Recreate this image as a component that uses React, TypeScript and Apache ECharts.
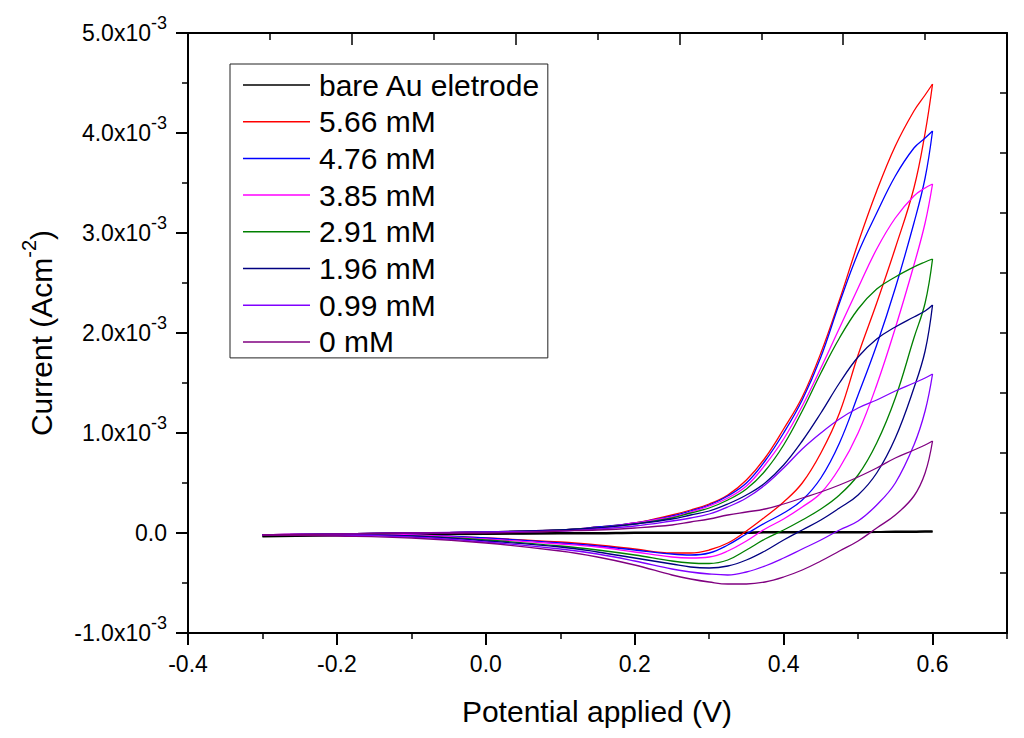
import React, { useEffect, useRef } from "react";
import * as echarts from "echarts";

// Potential grid (V) shared by both branches of every voltammogram
const POTENTIAL = [-0.3, -0.2, -0.1, 0, 0.1, 0.15, 0.2, 0.25, 0.275, 0.3, 0.325, 0.35, 0.375, 0.4, 0.425, 0.45, 0.475, 0.5, 0.525, 0.55, 0.575, 0.59, 0.6];

// Current density in units of 10^-3 A cm^-2
const BARE_UPPER = [-0.03, -0.02, -0.01, -0.005, 0, 0, 0.005, 0.005, 0.005, 0.005, 0.005, 0.005, 0.01, 0.01, 0.01, 0.01, 0.01, 0.01, 0.01, 0.015, 0.015, 0.015, 0.015];
const BARE_LOWER = [-0.035, -0.025, -0.015, -0.01, -0.005, -0.005, 0, 0, 0, 0, 0, 0, 0.005, 0.005, 0.005, 0.005, 0.005, 0.005, 0.01, 0.01, 0.01, 0.015, 0.015];

const UPPER_566 = [-0.02, -0.01, 0.0, 0.01, 0.03, 0.06, 0.1, 0.18, 0.23, 0.29, 0.38, 0.53, 0.75, 1.04, 1.36, 1.8, 2.33, 2.9, 3.42, 3.87, 4.22, 4.38, 4.49];
const LOWER_566 = [-0.02, -0.01, -0.02, -0.05, -0.09, -0.12, -0.16, -0.2, -0.2, -0.17, -0.1, 0.02, 0.16, 0.31, 0.5, 0.8, 1.2, 1.78, 2.3, 2.85, 3.45, 4.0, 4.49];

const UPPER_476 = [-0.02, -0.01, 0.0, 0.01, 0.03, 0.06, 0.1, 0.17, 0.22, 0.28, 0.37, 0.5, 0.72, 1.0, 1.33, 1.76, 2.3, 2.8, 3.2, 3.57, 3.85, 3.95, 4.02];
const LOWER_476 = [-0.02, -0.01, -0.02, -0.05, -0.1, -0.13, -0.17, -0.21, -0.22, -0.2, -0.12, -0.01, 0.1, 0.2, 0.33, 0.55, 0.9, 1.38, 1.88, 2.45, 3.1, 3.55, 4.02];

const UPPER_385 = [-0.02, -0.01, 0.0, 0.01, 0.03, 0.05, 0.1, 0.16, 0.21, 0.27, 0.35, 0.47, 0.68, 0.94, 1.27, 1.65, 2.05, 2.45, 2.84, 3.15, 3.37, 3.45, 3.49];
const LOWER_385 = [-0.02, -0.01, -0.02, -0.06, -0.11, -0.14, -0.19, -0.24, -0.25, -0.24, -0.18, -0.08, 0.04, 0.14, 0.26, 0.4, 0.65, 1.0, 1.48, 2.05, 2.68, 3.1, 3.49];

const UPPER_291 = [-0.02, -0.01, 0.0, 0.01, 0.03, 0.05, 0.09, 0.15, 0.2, 0.25, 0.33, 0.44, 0.62, 0.88, 1.22, 1.6, 1.95, 2.24, 2.44, 2.56, 2.66, 2.71, 2.74];
const LOWER_291 = [-0.02, -0.02, -0.03, -0.07, -0.13, -0.17, -0.22, -0.28, -0.3, -0.305, -0.27, -0.17, -0.06, 0.03, 0.13, 0.24, 0.38, 0.58, 0.9, 1.35, 1.95, 2.3, 2.74];

const UPPER_196 = [-0.02, -0.01, 0.0, 0.01, 0.03, 0.05, 0.09, 0.14, 0.18, 0.22, 0.29, 0.38, 0.5, 0.68, 0.92, 1.2, 1.5, 1.76, 1.94, 2.06, 2.16, 2.22, 2.28];
const LOWER_196 = [-0.02, -0.02, -0.03, -0.08, -0.14, -0.19, -0.25, -0.31, -0.34, -0.35, -0.33, -0.27, -0.18, -0.07, 0.03, 0.13, 0.25, 0.38, 0.6, 0.95, 1.45, 1.82, 2.28];

const UPPER_099 = [-0.02, -0.01, 0.0, 0.01, 0.02, 0.04, 0.07, 0.12, 0.15, 0.19, 0.26, 0.35, 0.48, 0.65, 0.84, 1.0, 1.14, 1.25, 1.33, 1.42, 1.5, 1.55, 1.59];
const LOWER_099 = [-0.02, -0.02, -0.04, -0.09, -0.16, -0.21, -0.28, -0.36, -0.39, -0.41, -0.42, -0.39, -0.33, -0.25, -0.16, -0.07, 0.03, 0.12, 0.28, 0.5, 0.88, 1.22, 1.59];

const UPPER_000 = [-0.02, -0.01, 0.0, 0.0, 0.02, 0.03, 0.05, 0.08, 0.11, 0.14, 0.18, 0.21, 0.24, 0.29, 0.35, 0.41, 0.48, 0.56, 0.65, 0.75, 0.83, 0.88, 0.92];
const LOWER_000 = [-0.02, -0.03, -0.05, -0.1, -0.18, -0.24, -0.32, -0.42, -0.46, -0.49, -0.51, -0.51, -0.49, -0.44, -0.37, -0.28, -0.18, -0.08, 0.05, 0.18, 0.37, 0.6, 0.92];

const SERIES_NAMES = ["bare Au eletrode", "5.66 mM", "4.76 mM", "3.85 mM", "2.91 mM", "1.96 mM", "0.99 mM", "0 mM"];
const UPPER_BRANCHES = [BARE_UPPER, UPPER_566, UPPER_476, UPPER_385, UPPER_291, UPPER_196, UPPER_099, UPPER_000];
const LOWER_BRANCHES = [BARE_LOWER, LOWER_566, LOWER_476, LOWER_385, LOWER_291, LOWER_196, LOWER_099, LOWER_000];

const X_TICKS_MAJOR = 0.2;
const X_TICKS_MINOR = 0.1;
const Y_TICK = 1;

const LINE_COLORS = ["#000000", "#ff0000", "#0000ff", "#ff00ff", "#008000", "#000080", "#8000ff", "#800080"];
const FONT = "'Liberation Sans', Arial, sans-serif";

export default function App() {
  const ref = useRef<HTMLDivElement>(null);

  useEffect(() => {
    if (!ref.current) return;
    const chart = echarts.init(ref.current, null, { renderer: "svg" });

    const series: any[] = [];
    SERIES_NAMES.forEach((name, i) => {
      const base = {
        name,
        type: "line",
        xAxisIndex: 0,
        yAxisIndex: 0,
        showSymbol: false,
        symbol: "none",
        smooth: 0.4,
        lineStyle: { color: LINE_COLORS[i], width: i === 0 ? 2 : 1.3 },
        itemStyle: { color: LINE_COLORS[i] },
        silent: true,
      };
      series.push({ ...base, data: POTENTIAL.map((v, k) => [v, LOWER_BRANCHES[i][k]]) });
      series.push({ ...base, data: POTENTIAL.map((v, k) => [v, UPPER_BRANCHES[i][k]]) });
    });

    const axisLineStyle = { color: "#000", width: 2 };

    chart.setOption({
      animation: false,
      backgroundColor: "#ffffff",
      grid: { left: 188, right: 17, top: 33, bottom: 105, containLabel: false },
      legend: {
        data: SERIES_NAMES,
        orient: "vertical",
        left: 230,
        top: 64,
        padding: [6, 7, 1, 13],
        icon: "rect",
        itemGap: 6.7,
        itemWidth: 67,
        itemHeight: 1.5,
        selectedMode: false,
        borderColor: "#222",
        borderWidth: 1,
        textStyle: { fontSize: 30, lineHeight: 30, fontFamily: FONT, color: "#000", padding: [0, 0, 0, 4] },
      },
      xAxis: [
        {
          type: "value",
          min: -0.4,
          max: 0.7,
          interval: X_TICKS_MAJOR,
          position: "bottom",
          axisLine: { show: true, onZero: false, lineStyle: axisLineStyle },
          axisTick: { show: true, inside: false, length: 12, lineStyle: { color: "#000", width: 2 } },
          axisLabel: {
            margin: 19,
            fontSize: 23,
            fontFamily: FONT,
            color: "#000",
            showMaxLabel: false,
            formatter: (v: number) => (v > 0.65 ? "" : v.toFixed(1)),
          },
          splitLine: { show: false },
        },
        {
          type: "value",
          min: -0.4,
          max: 0.7,
          interval: X_TICKS_MINOR,
          position: "bottom",
          axisLine: { show: false, onZero: false },
          axisTick: { show: true, inside: false, length: 6, lineStyle: { color: "#000", width: 1.5 } },
          axisLabel: { show: false },
          splitLine: { show: false },
        },
        {
          type: "value",
          min: 0,
          max: 10,
          interval: 2,
          position: "top",
          axisLine: { show: true, onZero: false, lineStyle: axisLineStyle },
          axisTick: { show: true, inside: true, length: 12, lineStyle: { color: "#000", width: 1.5 } },
          minorTick: { show: true, splitNumber: 2, length: 7, lineStyle: { color: "#000", width: 1.5 } },
          axisLabel: { show: false },
          splitLine: { show: false },
        },
      ],
      yAxis: [
        {
          type: "value",
          min: -1,
          max: 5,
          interval: Y_TICK,
          position: "left",
          axisLine: { show: true, onZero: false, lineStyle: axisLineStyle },
          axisTick: { show: true, inside: false, length: 12, lineStyle: { color: "#000", width: 2 } },
          minorTick: { show: true, splitNumber: 2, length: 6, lineStyle: { color: "#000", width: 1.5 } },
          axisLabel: {
            margin: 21,
            formatter: (v: number) => (Math.abs(v) < 1e-9 ? "{a|0.0}" : `{a|${v.toFixed(1)}x10}{s|-3}`),
            rich: {
              a: { fontSize: 23, lineHeight: 38, fontFamily: FONT, color: "#000" },
              s: { fontSize: 18, lineHeight: 18, verticalAlign: "top", fontFamily: FONT, color: "#000" },
            },
          },
          splitLine: { show: false },
        },
        {
          type: "value",
          min: 0,
          max: 10,
          interval: 1,
          position: "right",
          axisLine: { show: true, onZero: false, lineStyle: axisLineStyle },
          axisTick: { show: true, inside: true, length: 7, lineStyle: { color: "#000", width: 1.5 } },
          axisLabel: { show: false },
          splitLine: { show: false },
        },
      ],
      graphic: [
        {
          type: "text",
          x: 597,
          y: 711,
          silent: true,
          style: {
            text: "Potential applied (V)",
            fontSize: 30,
            fontFamily: FONT,
            fill: "#000",
            align: "center",
            verticalAlign: "middle",
          },
        },
        {
          type: "text",
          x: 41,
          y: 333,
          rotation: Math.PI / 2,
          silent: true,
          style: {
            text: "{a|Current (Acm}{s|-2}{a|)}",
            fill: "#000",
            align: "center",
            verticalAlign: "middle",
            rich: {
              a: { fontSize: 30, lineHeight: 44, fontFamily: FONT, fill: "#000" },
              s: { fontSize: 20, lineHeight: 20, verticalAlign: "top", fontFamily: FONT, fill: "#000" },
            },
          },
        },
      ],
      series,
    });

    return () => chart.dispose();
  }, []);

  return (
    <div
      ref={ref}
      style={{ position: "fixed", left: 0, top: 0, width: 1024, height: 738, background: "#fff" }}
    />
  );
}
